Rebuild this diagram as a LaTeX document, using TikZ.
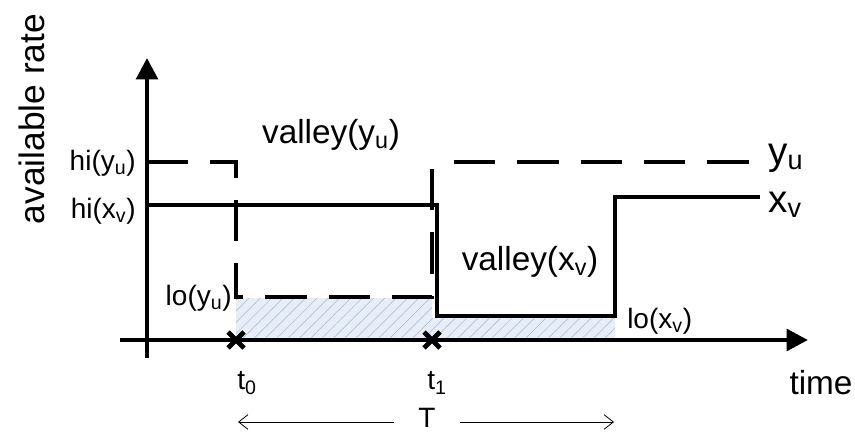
\documentclass[tikz,border=0pt]{standalone}
\usepackage{fontspec}
\setmainfont{Liberation Sans}
\usetikzlibrary{arrows.meta,patterns.meta}
\definecolor{hatchfill}{HTML}{E8EEF7}
\definecolor{hatchline}{HTML}{AEC0DA}
\begin{document}
\begin{tikzpicture}[x=0.75pt,y=-0.75pt,
  lbl/.style={font=\fontsize{21}{25}\selectfont, inner sep=0pt},
  big/.style={font=\fontsize{25}{30}\selectfont, inner sep=0pt},
  huge/.style={font=\fontsize{29}{34}\selectfont, inner sep=0pt},
  curve/.style={line width=3.5pt},
  dcurve/.style={line width=3.6pt, dash pattern=on 31pt off 16.5pt},
  axis/.style={line width=3.5pt},
  cross/.style={line width=3.6pt},
  tarrow/.style={line width=0.6pt, -{Straight Barb[length=7pt,width=11pt]}}]
\useasboundingbox (0,0) rectangle (855,434);
\fill[white] (0,0) rectangle (855,434);
% hatched area
\fill[hatchfill] (236,298) -- (432,298) -- (432,318) -- (615,318) -- (615,340) -- (236,340) -- cycle;
\fill[pattern={Lines[angle=45,distance=6pt,line width=0.5pt]}, pattern color=hatchline]
  (236,298) -- (432,298) -- (432,318) -- (615,318) -- (615,340) -- (236,340) -- cycle;
% axes
\draw[axis,-{Triangle[length=16pt,width=16pt]}] (147,358) -- (147,58);
\draw[axis,-{Triangle[length=16pt,width=16pt]}] (120,340) -- (808,340);
% curves
\draw[dcurve] (147,162) -- (236,162) -- (236,297) -- (432,297) -- (432,162);
\draw[dcurve, dash phase=31pt] (432,162) -- (753,162);
\draw[curve] (147,205) -- (437,205) -- (437,316) -- (615,316) -- (615,197) -- (760,197);
% crosses
\draw[cross] (228,332) -- (244,348) (228,348) -- (244,332);
\draw[cross] (424,332) -- (440,348) (424,348) -- (440,332);
% labels
\node[big, font=\fontsize{26.5}{30}\selectfont, rotate=90] (ylab) at (32,119) {available rate};
\node[lbl, anchor=east] (hiy) at (136,163) {hi(y\textsubscript{u})};
\node[lbl, anchor=east] (hix) at (136,211) {hi(x\textsubscript{v})};
\node[lbl, anchor=east] (loy) at (232,298) {lo(y\textsubscript{u})};
\node[lbl, anchor=west] (lox) at (627,321) {lo(x\textsubscript{v})};
\node[big] (valy) at (331,135) {valley(y\textsubscript{u})};
\node[big] (valx) at (530,262) {valley(x\textsubscript{v})};
\node[huge, anchor=west] (yu) at (768,158) {y\textsubscript{u}};
\node[huge, anchor=west] (xv) at (768,205) {x\textsubscript{v}};
\node[lbl] (t0) at (247,383) {t\textsubscript{0}};
\node[lbl] (t1) at (437,383) {t\textsubscript{1}};
\node[big] (time) at (821,383) {time};
\node[lbl] (T) at (427,418) {T};
\coordinate (Tl) at (238,422);
\coordinate (Tr) at (614,422);
\draw[tarrow] ([xshift=-25pt]T.center |- Tl) -- (Tl);
\draw[tarrow] ([xshift=25pt]T.center |- Tr) -- (Tr);
\end{tikzpicture}
\end{document}
